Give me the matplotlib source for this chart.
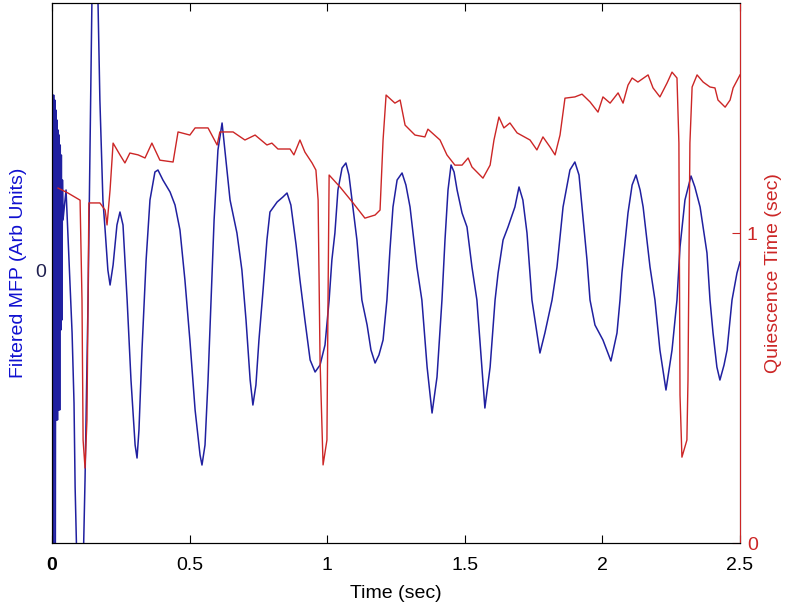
import matplotlib
matplotlib.use("Agg")
import numpy as np
from matplotlib import pyplot as plt

plt.rcParams['font.family'] = ['Liberation Sans', 'DejaVu Sans']

# filtered MFP (arbitrary units)
mfp_t = [0.000, 0.004, 0.006, 0.008, 0.010, 0.012, 0.014, 0.016, 0.018, 0.020,
         0.022, 0.024, 0.026, 0.028, 0.030, 0.032, 0.034, 0.036, 0.038, 0.040,
         0.051, 0.065, 0.073, 0.080, 0.084, 0.091, 0.102, 0.113, 0.120,
         0.131, 0.138, 0.145, 0.156, 0.167, 0.174, 0.185, 0.193, 0.203, 0.211,
         0.222, 0.236, 0.247, 0.258, 0.273, 0.287, 0.302, 0.309, 0.316, 0.327,
         0.342, 0.356, 0.374, 0.385, 0.403, 0.429, 0.447, 0.465, 0.483, 0.501,
         0.520, 0.538, 0.545, 0.556, 0.567, 0.578, 0.589, 0.603, 0.618, 0.632,
         0.647, 0.672, 0.690, 0.705, 0.720, 0.730, 0.741, 0.752, 0.767, 0.781,
         0.792, 0.818, 0.839, 0.854, 0.868, 0.887, 0.901, 0.919, 0.938, 0.956,
         0.974, 0.992, 1.007, 1.017, 1.028, 1.039, 1.054, 1.068, 1.079, 1.090,
         1.108, 1.126, 1.145, 1.159, 1.174, 1.188, 1.203, 1.217, 1.228, 1.239,
         1.254, 1.272, 1.286, 1.301, 1.326, 1.344, 1.363, 1.381, 1.399, 1.417,
         1.428, 1.439, 1.450, 1.461, 1.472, 1.490, 1.508, 1.526, 1.544, 1.562,
         1.573, 1.592, 1.610, 1.621, 1.639, 1.657, 1.682, 1.697, 1.711, 1.726,
         1.744, 1.762, 1.773, 1.791, 1.817, 1.835, 1.857, 1.882, 1.900, 1.915,
         1.926, 1.944, 1.955, 1.973, 2.002, 2.031, 2.053, 2.064, 2.071, 2.093,
         2.108, 2.122, 2.137, 2.148, 2.173, 2.191, 2.209, 2.231, 2.253, 2.271,
         2.282, 2.300, 2.322, 2.336, 2.355, 2.380, 2.391, 2.402, 2.416, 2.427,
         2.442, 2.453, 2.471, 2.489, 2.500]
mfp = [330, -350, 175, -150, 170, -330, 160, -150, 150, -150,
       140, -140, 135, -140, 125, -60, 115, -50, 90, 50,
       80, -10, -63, -133, -217, -300, -350, -300, -210,
       -30, 120, 270, 340, 270, 170, 70, 40, 0, -15,
       5, 45, 58, 45, -30, -110, -175, -188, -160, -80,
       10, 70, 98, 100, 90, 78, 65, 40, -10, -70,
       -140, -185, -195, -175, -110, -30, 50, 120, 147, 110,
       70, 37, 0, -50, -110, -135, -115, -70, -20, 30,
       58, 68, 73, 77, 65, 25, -10, -50, -90, -102,
       -95, -75, -30, 10, 37, 80, 102, 107, 95, 70,
       30, -30, -55, -80, -93, -85, -70, -30, 20, 63,
       90, 97, 85, 63, 3, -30, -97, -143, -107, -30,
       30, 80, 105, 98, 80, 57, 43, 3, -30, -97,
       -138, -97, -30, -3, 30, 43, 63, 83, 70, 37,
       -30, -63, -83, -63, -30, 3, 63, 100, 108, 95,
       63, 10, -30, -55, -70, -91, -63, -30, -3, 57,
       85, 95, 80, 63, 3, -30, -80, -120, -80, -30,
       23, 70, 94, 83, 63, 17, -30, -63, -97, -110,
       -95, -80, -30, -3, 8]

# quiescence time (sec)
qt_t = [0.022, 0.058, 0.102, 0.109, 0.113, 0.120, 0.127, 0.131, 0.134, 0.174,
        0.193, 0.200, 0.211, 0.222, 0.247, 0.265, 0.283, 0.313, 0.338, 0.363,
        0.392, 0.440, 0.458, 0.501, 0.520, 0.567, 0.600, 0.610, 0.658, 0.701,
        0.738, 0.781, 0.799, 0.821, 0.865, 0.879, 0.901, 0.919, 0.945, 0.959,
        0.967, 0.974, 0.985, 0.999, 1.003, 1.007, 1.047, 1.094, 1.137, 1.174,
        1.192, 1.203, 1.214, 1.246, 1.265, 1.283, 1.319, 1.355, 1.366, 1.410,
        1.435, 1.464, 1.490, 1.512, 1.526, 1.566, 1.592, 1.606, 1.624, 1.642,
        1.664, 1.690, 1.737, 1.762, 1.784, 1.810, 1.828, 1.846, 1.864, 1.900,
        1.926, 1.955, 1.984, 2.002, 2.028, 2.057, 2.075, 2.093, 2.108, 2.129,
        2.166, 2.184, 2.209, 2.235, 2.253, 2.271, 2.278, 2.282, 2.289, 2.307,
        2.311, 2.318, 2.326, 2.344, 2.366, 2.391, 2.409, 2.420, 2.446, 2.464,
        2.475, 2.500]
qt = [1.145, 1.129, 1.106, 0.784, 0.332, 0.242, 0.397, 0.784, 1.097, 1.097,
      1.074, 1.026, 1.139, 1.290, 1.252, 1.226, 1.258, 1.252, 1.242, 1.290,
      1.235, 1.229, 1.326, 1.316, 1.339, 1.339, 1.284, 1.326, 1.326, 1.300,
      1.316, 1.284, 1.290, 1.271, 1.271, 1.252, 1.300, 1.261, 1.226, 1.203,
      1.106, 0.590, 0.252, 0.332, 0.784, 1.187, 1.148, 1.097, 1.048, 1.058,
      1.074, 1.300, 1.445, 1.419, 1.429, 1.348, 1.316, 1.310, 1.335, 1.300,
      1.252, 1.219, 1.219, 1.242, 1.213, 1.177, 1.219, 1.300, 1.374, 1.339,
      1.355, 1.323, 1.300, 1.268, 1.310, 1.277, 1.252, 1.316, 1.435, 1.439,
      1.448, 1.423, 1.390, 1.439, 1.419, 1.452, 1.419, 1.477, 1.500, 1.487,
      1.510, 1.468, 1.439, 1.484, 1.519, 1.500, 1.290, 0.477, 0.277, 0.332,
      0.526, 1.290, 1.471, 1.510, 1.487, 1.471, 1.468, 1.429, 1.406, 1.429,
      1.468, 1.510]

x_ticks = [0, 0.5, 1, 1.5, 2, 2.5]
x_labels = ['0', '0.5', '1', '1.5', '2', '2.5']

blue = '#2020a0'
red = '#cc2626'
fs = 14

fig = plt.figure(figsize=(8, 6.1), dpi=100)
ax = fig.add_axes([0.065, 0.1098, 0.86, 0.8853])
ax.plot(mfp_t, mfp, color=blue, lw=1.1)
ax.set_xlim(0, 2.5)
ax.set_ylim(-273, 267)
ax.set_xticks(x_ticks)
ax.set_xticklabels(x_labels, fontsize=fs)
ax.get_xticklabels()[0].set_fontweight('bold')
ax.set_yticks([0])
ax.set_yticklabels(['0'], fontsize=fs, color='#202050')
ax.tick_params(axis='x', direction='in', length=6, top=True, pad=10)
ax.tick_params(axis='y', direction='in', length=6, right=True, color=blue, pad=4)
ax.set_xlabel('Time (sec)', fontsize=fs, labelpad=8)
ax.set_ylabel('Filtered MFP (Arb Units)', fontsize=fs, color='#1010d0')
ax.yaxis.set_label_coords(-0.036, 0.5)

ax2 = ax.twinx()
ax2.plot(qt_t, qt, color=red, lw=1.0)
ax2.set_ylim(0, 1.742)
ax2.set_yticks([0, 1])
ax2.set_yticklabels(['0', '1'], fontsize=fs, color=red)
ax2.tick_params(axis='y', direction='in', length=6, color=red, pad=5)
ax2.spines['right'].set_color(red)
ax2.set_ylabel('Quiescence Time (sec)', fontsize=fs, color=red)
ax2.yaxis.set_label_coords(1.036, 0.5)

fig.savefig('out.png', dpi=100)
